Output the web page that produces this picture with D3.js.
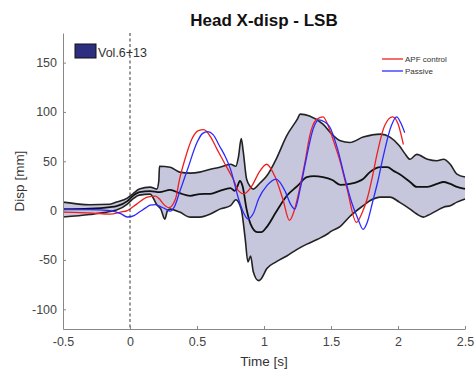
<!DOCTYPE html>
<html><head><meta charset="utf-8">
<script src="https://cdn.jsdelivr.net/npm/d3@7"></script>
<style>body{margin:0;background:#fff}svg{display:block}text{font-family:"Liberation Sans",Arial,sans-serif}</style>
</head><body><svg id="c" width="476" height="374"></svg>
<script>
const xTicks=[-0.5,0,0.5,1,1.5,2,2.5];
const yTicks=[-100,-50,0,50,100,150];
const redT=[-0.5,-0.28,-0.15,-0.07,-0.02,0.05,0.13,0.19,0.22,0.25,0.29,0.34,0.37,0.41,0.46,0.51,0.55,0.6,0.65,0.69,0.73,0.77,0.81,0.85,0.91,0.96,1.02,1.08,1.14,1.19,1.23,1.27,1.31,1.34,1.39,1.44,1.49,1.53,1.57,1.62,1.69,1.73,1.77,1.81,1.84,1.9,1.96,2.0,2.04];
const redV=[-1.5,-2.5,-3.5,-1.5,0,6.6,13.7,14.7,11.7,6.6,3,12,32,52,72,81,82,75,62,52,42,32,20,17,25,38,47,35,12,-10,2,25,52,75,92,95,82,66,49,22,-12,-3,12,35,55,86,95,88,67];
const blueT=[-0.5,-0.3,-0.15,-0.07,-0.02,0.03,0.07,0.12,0.15,0.19,0.22,0.26,0.3,0.33,0.37,0.43,0.5,0.54,0.58,0.62,0.67,0.71,0.75,0.81,0.85,0.88,0.92,0.96,1.02,1.09,1.16,1.2,1.23,1.27,1.31,1.37,1.41,1.45,1.49,1.55,1.6,1.65,1.7,1.74,1.77,1.81,1.85,1.89,1.95,1.99,2.02,2.05];
const blueV=[1,1,0,-3,-6.5,-5,-1.5,3,5.5,6,4.5,2,-0.5,3.5,18.7,42,69,78,80,77,65,55,42,12,-3,-8.5,-3,12,25,32,19,6,1.5,22,49,84,92,90,85,62,35,10,-8,-19,-12,8.5,30,55,86,95,89,79];
const meanT=[-0.5,-0.3,-0.15,-0.1,-0.02,0.02,0.07,0.15,0.22,0.3,0.37,0.45,0.52,0.6,0.67,0.75,0.78,0.8,0.82,0.84,0.87,0.9,0.95,0.98,1.02,1.09,1.17,1.25,1.32,1.37,1.44,1.51,1.57,1.64,1.74,1.79,1.87,1.92,1.97,2.01,2.09,2.14,2.22,2.29,2.34,2.39,2.44,2.5];
const meanV=[1.5,2,3.5,4.5,9.6,14.7,18.7,19.8,18.7,21,17.7,15,16.7,17,20,22.8,20,24,30,25,1.5,-13.7,-21.8,-21.8,-16.7,-1.5,15,25,34,35,34,31,26,27,32,39,44,44,40,37,29,24,24,27,29,27,24,22];
const upT=[-0.5,-0.3,-0.15,-0.1,-0.02,0.02,0.07,0.15,0.2,0.215,0.22,0.3,0.37,0.45,0.52,0.6,0.67,0.75,0.79,0.81,0.83,0.845,0.87,0.9,0.92,0.97,1.02,1.09,1.17,1.25,1.27,1.34,1.44,1.51,1.57,1.64,1.74,1.87,1.94,2.01,2.05,2.09,2.14,2.22,2.29,2.34,2.39,2.44,2.5];
const upV=[8.6,6,6.5,8.6,12.7,16.7,21.8,23.8,21.8,30,45,44,39,38,39,42,44,47,45,55,73,60,32,24,21.8,28,35,52,76,93,97.8,96,87.6,77,70.7,69,74.5,77.5,74.5,65.7,58,52,57,52,50.5,52,47,37,34];
const loT=[-0.5,-0.3,-0.15,-0.1,-0.02,0.02,0.07,0.15,0.2,0.23,0.26,0.28,0.3,0.37,0.45,0.52,0.6,0.67,0.75,0.79,0.83,0.86,0.88,0.9,0.92,0.96,0.98,1.02,1.09,1.17,1.25,1.32,1.4,1.47,1.5,1.57,1.64,1.74,1.79,1.87,1.94,2.01,2.09,2.14,2.19,2.22,2.29,2.34,2.39,2.44,2.5];
const loV=[-6.5,-4,-1,0.5,6.6,11.7,15.7,16.7,6,1.5,-8.6,0,1.5,-1.5,-6.6,-6.6,-3.5,1.5,5,11,1.5,-29,-52,-46,-62,-71,-69,-59,-52,-46,-39,-34,-29,-24,-21,-16,-6,5,10,13.7,13.7,8.6,1.5,-3.5,-6.6,-5,0,3.5,5,8.6,11.7];

const svg=d3.select("#c");
const x=d3.scaleLinear().domain([-0.5,2.5]).range([63,465]);
const y=d3.scaleLinear().domain([-120,180]).range([329,33]);
const pts=(T,V)=>T.map((t,i)=>[t,V[i]]);
const lin=d3.line().x(d=>x(d[0])).y(d=>y(d[1]));
const mono=d3.line().x(d=>x(d[0])).y(d=>y(d[1])).curve(d3.curveMonotoneX);

// band
const up=pts(upT,upV), lo=pts(loT,loV);
svg.append("path").attr("d",lin(up.concat(lo.slice().reverse()))+"Z").attr("fill","#c6c6dc").attr("stroke","none");
svg.append("path").attr("d",mono(up)).attr("fill","none").attr("stroke","#222").attr("stroke-width",1.6);
svg.append("path").attr("d",mono(lo)).attr("fill","none").attr("stroke","#222").attr("stroke-width",1.6);
svg.append("path").attr("d",mono(pts(meanT,meanV))).attr("fill","none").attr("stroke","#111").attr("stroke-width",1.8);
svg.append("path").attr("d",mono(pts(redT,redV))).attr("fill","none").attr("stroke","#f01e1e").attr("stroke-width",1.3);
svg.append("path").attr("d",mono(pts(blueT,blueV))).attr("fill","none").attr("stroke","#2a2aff").attr("stroke-width",1.3);

// dashed zero line
svg.append("line").attr("x1",x(0)).attr("x2",x(0)).attr("y1",y(180)).attr("y2",y(-120)).attr("stroke","#333").attr("stroke-width",1).attr("stroke-dasharray","3,2.5");

// axes
const gx=svg.append("g").attr("transform",`translate(0,${y(-120)})`).call(d3.axisBottom(x).tickValues(xTicks).tickFormat(d=>String(d)).tickSizeInner(-3).tickSizeOuter(0).tickPadding(8));
const gy=svg.append("g").attr("transform",`translate(${x(-0.5)},0)`).call(d3.axisLeft(y).tickValues(yTicks).tickFormat(d=>String(d)).tickSizeInner(-3).tickSizeOuter(0).tickPadding(6));
[gx,gy].forEach(g=>{g.select(".domain").attr("stroke","#888");g.selectAll(".tick line").attr("stroke","#888");g.selectAll("text").attr("fill","#444").attr("font-size",12.5).attr("font-family","Liberation Sans, Arial, sans-serif");});

// titles
svg.append("text").attr("x",264).attr("y",26).attr("text-anchor","middle").attr("font-weight","bold").attr("font-size",17).attr("fill","#111").text("Head X-disp - LSB");
svg.append("text").attr("x",264).attr("y",366).attr("text-anchor","middle").attr("font-size",13.5).attr("fill","#333").text("Time [s]");
svg.append("text").attr("transform","translate(24,181) rotate(-90)").attr("text-anchor","middle").attr("font-size",13.5).attr("fill","#333").text("Disp [mm]");

// legends
svg.append("rect").attr("x",75).attr("y",44).attr("width",21).attr("height",14).attr("fill","#2e2e80").attr("stroke","#111").attr("stroke-width",1);
svg.append("text").attr("x",98).attr("y",57).attr("font-size",12.5).attr("fill","#333").text("Vol.6+13");
const leg=[["APF control","#f01e1e",59],["Passive","#2a2aff",71]];
leg.forEach(([t,c,yy])=>{
  svg.append("line").attr("x1",382).attr("x2",403).attr("y1",yy).attr("y2",yy).attr("stroke",c).attr("stroke-width",1.3);
  svg.append("text").attr("x",405).attr("y",yy+3).attr("font-size",8).attr("fill","#333").text(t);
});
</script></body></html>
